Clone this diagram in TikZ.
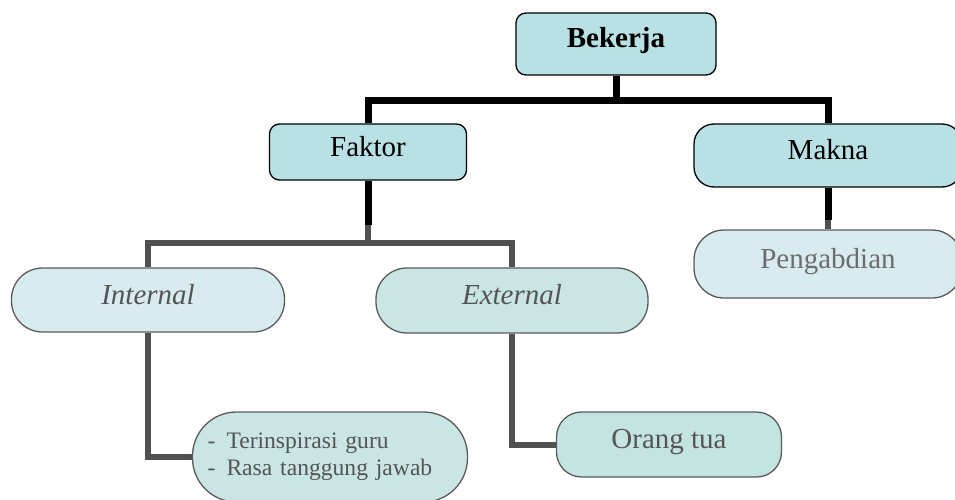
\documentclass[tikz,border=0pt]{standalone}
\usepackage{fontspec}
\setmainfont{Liberation Serif}
\definecolor{topfill}{HTML}{B9E0E4}
\definecolor{paleblue}{HTML}{D8ECEF}
\definecolor{palegreen}{HTML}{C9E6E5}
\definecolor{midgreen}{HTML}{C4E4E1}
\definecolor{boxgray}{HTML}{5A5A5A}
\definecolor{textgray}{HTML}{555555}
\definecolor{linegray}{HTML}{505050}
\begin{document}
\begin{tikzpicture}[x=1pt,y=-1pt,
    bigfont/.style={font=\fontsize{29}{34}\selectfont, text height=20pt, text depth=12pt, inner sep=0pt},
    topbox/.style={bigfont, draw=black, line width=1.3pt, fill=topfill},
    subbox/.style={bigfont, draw=boxgray, line width=1.3pt, text=textgray},
    blackline/.style={line width=7pt, black},
    grayline/.style={line width=6pt, linegray}]
    \useasboundingbox (0,0) rectangle (955,500);

    % top level
    \node(bekerja) at (616,44) [topbox, minimum width=200pt, minimum height=62pt, rounded corners=10pt] {\textbf{Bekerja}};
    \node(faktor) at (368,152) [topbox, minimum width=197pt, minimum height=56pt, rounded corners=10pt] {Faktor};
    \node(makna) at (828,155.5) [topbox, minimum width=268pt, minimum height=63pt, rounded corners=20pt] {Makna};
    \node(pengabdian) at (828,264) [subbox, fill=paleblue, text=gray!85!black, minimum width=268pt, minimum height=68pt, rounded corners=30pt] {Pengabdian};

    % factors
    \node(internal) at (148,300) [subbox, fill=paleblue, minimum width=273pt, minimum height=64pt, rounded corners=31pt] {\textit{Internal}};
    \node(external) at (512,300.5) [subbox, fill=palegreen, minimum width=272pt, minimum height=65pt, rounded corners=31pt] {\textit{External}};
    \node(terinsp) at (330,457) [draw=boxgray, line width=1.3pt, fill=palegreen, text=textgray, font=\fontsize{23.6}{27}\selectfont, align=left, text width=245pt, inner xsep=15pt, inner ysep=0pt, minimum height=90pt, rounded corners=44pt]
        {\makebox[19pt][l]{-}Terinspirasi guru\\ \makebox[19pt][l]{-}Rasa tanggung jawab};
    \node(orang) at (669,444.5) [subbox, fill=midgreen, minimum width=225pt, minimum height=65pt, rounded corners=25pt] {Orang tua};

    \coordinate(fak_split) at (368,225);
    \coordinate(mak_split) at (828,220);

    \draw[blackline] (bekerja.south) -- ++(0,25) -| (faktor.north);
    \draw[blackline] (bekerja.south) -- ++(0,25) -| (makna.north);
    \draw[blackline] (faktor.south) -- (fak_split);
    \draw[blackline] (makna.south) -- (mak_split);
    \draw[grayline] (mak_split) -- (pengabdian.north);
    \draw[grayline] (fak_split) -- ++(0,18) -| (internal.north);
    \draw[grayline] (fak_split) -- ++(0,18) -| (external.north);
    \draw[grayline] (internal.south) |- (terinsp.west);
    \draw[grayline] (external.south) |- (orang.west);
\end{tikzpicture}
\end{document}
